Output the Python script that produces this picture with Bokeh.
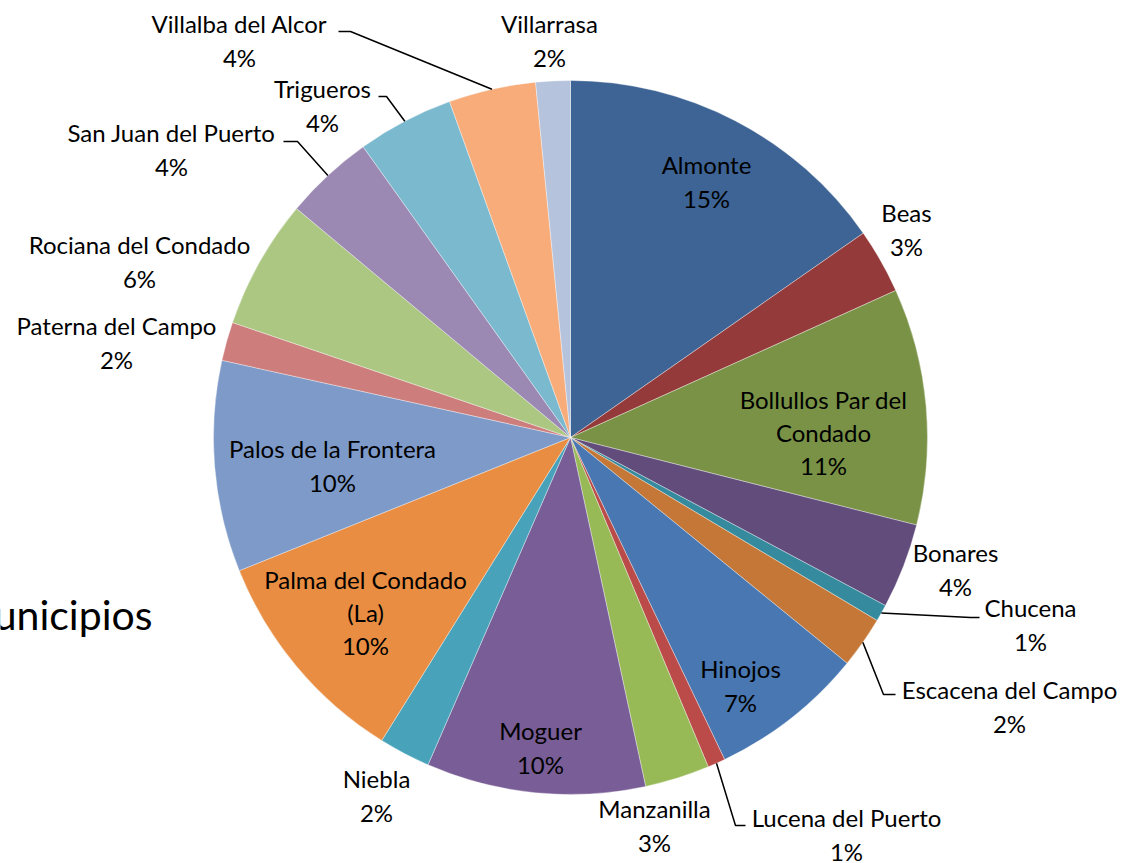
import numpy as np
from bokeh.plotting import figure
from bokeh.models import Range1d, ColumnDataSource
from bokeh.core.properties import value
from bokeh.embed import file_html
from bokeh.resources import INLINE

# ---------------- data ----------------
categories = ["Almonte", "Beas", "Bollullos Par del Condado", "Bonares", "Chucena",
              "Escacena del Campo", "Hinojos", "Lucena del Puerto", "Manzanilla", "Moguer",
              "Niebla", "Palma del Condado (La)", "Palos de la Frontera", "Paterna del Campo",
              "Rociana del Condado", "San Juan del Puerto", "Trigueros", "Villalba del Alcor",
              "Villarrasa"]
shares = [15.3, 2.94, 10.7, 3.86, 0.76, 2.33, 7.0, 0.8, 2.93, 9.91,
          2.33, 10.05, 9.55, 1.75, 5.86, 4.06, 4.36, 3.94, 1.56]
title_text = "Municipios"

colors = ["#3D6494", "#943A3A", "#799246", "#624C7C", "#358A9D",
          "#C47736", "#4877B1", "#BA4B48", "#97B956", "#785D96",
          "#48A3BA", "#E88D42", "#7D9AC8", "#CD7D7C", "#ACC782",
          "#9B89B3", "#7BB9CF", "#F7AC7A", "#B5C3DC"]

# ---------------- layout ----------------
W, H = 1123, 863
CX, CY, R = 570, 437, 357          # screen coords of pie centre, radius
FONT = "Lato"
FS = "24px"

# label name wrapping (layout only)
wrap = {"Bollullos Par del Condado": "Bollullos Par del\nCondado",
        "Palma del Condado (La)": "Palma del Condado\n(La)"}
# label centre positions in screen pixels (layout only)
label_pos = {
    "Almonte": (706, 181), "Beas": (906, 229), "Bollullos Par del Condado": (823, 432),
    "Bonares": (955, 569), "Chucena": (1030, 624), "Escacena del Campo": (1009, 706),
    "Hinojos": (740, 685), "Lucena del Puerto": (846, 834), "Manzanilla": (654, 825),
    "Moguer": (540, 747), "Niebla": (376, 795), "Palma del Condado (La)": (365, 612),
    "Palos de la Frontera": (332, 465), "Paterna del Campo": (116, 342),
    "Rociana del Condado": (139, 261), "San Juan del Puerto": (171, 149),
    "Trigueros": (322, 105), "Villalba del Alcor": (239, 40), "Villarrasa": (549, 40),
}
# leader line elbows: (label end point, elbow point) in screen pixels
leaders = {
    "Villalba del Alcor": [(338, 31), (350, 31)],
    "Trigueros": [(378, 96), (386, 96)],
    "San Juan del Puerto": [(283, 141), (297, 141)],
    "Chucena": [(979, 617), (970, 617)],
    "Escacena del Campo": [(895, 694), (883, 694)],
    "Lucena del Puerto": [(745, 825), (735, 825)],
}

def Y(sy):
    return H - sy

vals = np.array(shares, dtype=float)
frac = vals / vals.sum()
cum_end = np.cumsum(frac)
cum_start = cum_end - frac
# clockwise from 12 o'clock
start_angle = np.pi / 2 - 2 * np.pi * cum_end
end_angle = np.pi / 2 - 2 * np.pi * cum_start
mid = np.pi / 2 - 2 * np.pi * (cum_start + frac / 2)

p = figure(width=W, height=H, x_range=Range1d(0, W), y_range=Range1d(0, H),
           output_backend="svg", toolbar_location=None,
           x_axis_location=None, y_axis_location=None, min_border=0)
p.grid.visible = False
p.outline_line_color = None
p.background_fill_color = "white"
p.border_fill_color = "white"

src = ColumnDataSource(dict(cat=categories, val=shares, color=colors,
                            sa=start_angle, ea=end_angle))
p.wedge(x=CX, y=Y(CY), radius=R, start_angle="sa", end_angle="ea",
        fill_color="color", line_color="white", line_width=0.6, line_alpha=0.6,
        source=src)

# leader lines
lx, ly = [], []
for i, c in enumerate(categories):
    if c in leaders:
        ex = CX + R * np.cos(mid[i])
        ey = Y(CY) + R * np.sin(mid[i])
        (ax, ay), (bx, by) = leaders[c]
        lx.append([ax, bx, ex])
        ly.append([Y(ay), Y(by), ey])
p.multi_line(xs=lx, ys=ly, line_color="black", line_width=1.5)

# labels
tx, ty, tt = [], [], []
for c, v in zip(categories, shares):
    sx, sy = label_pos[c]
    tx.append(sx)
    ty.append(Y(sy))
    tt.append(f"{wrap.get(c, c)}\n{int(v + 0.5)}%")
p.text(x=tx, y=ty, text=tt, text_font=value(FONT), text_font_size=FS,
       text_align="center", text_baseline="middle", text_line_height=1.15,
       text_color="black")

# title (partially off-canvas, as in the reference)
p.text(x=[152], y=[Y(614)], text=[title_text], text_font=value(FONT),
       text_font_size="41px", text_align="right", text_baseline="alphabetic",
       text_color="black")

open("out.html", "w").write(file_html(p, INLINE))
